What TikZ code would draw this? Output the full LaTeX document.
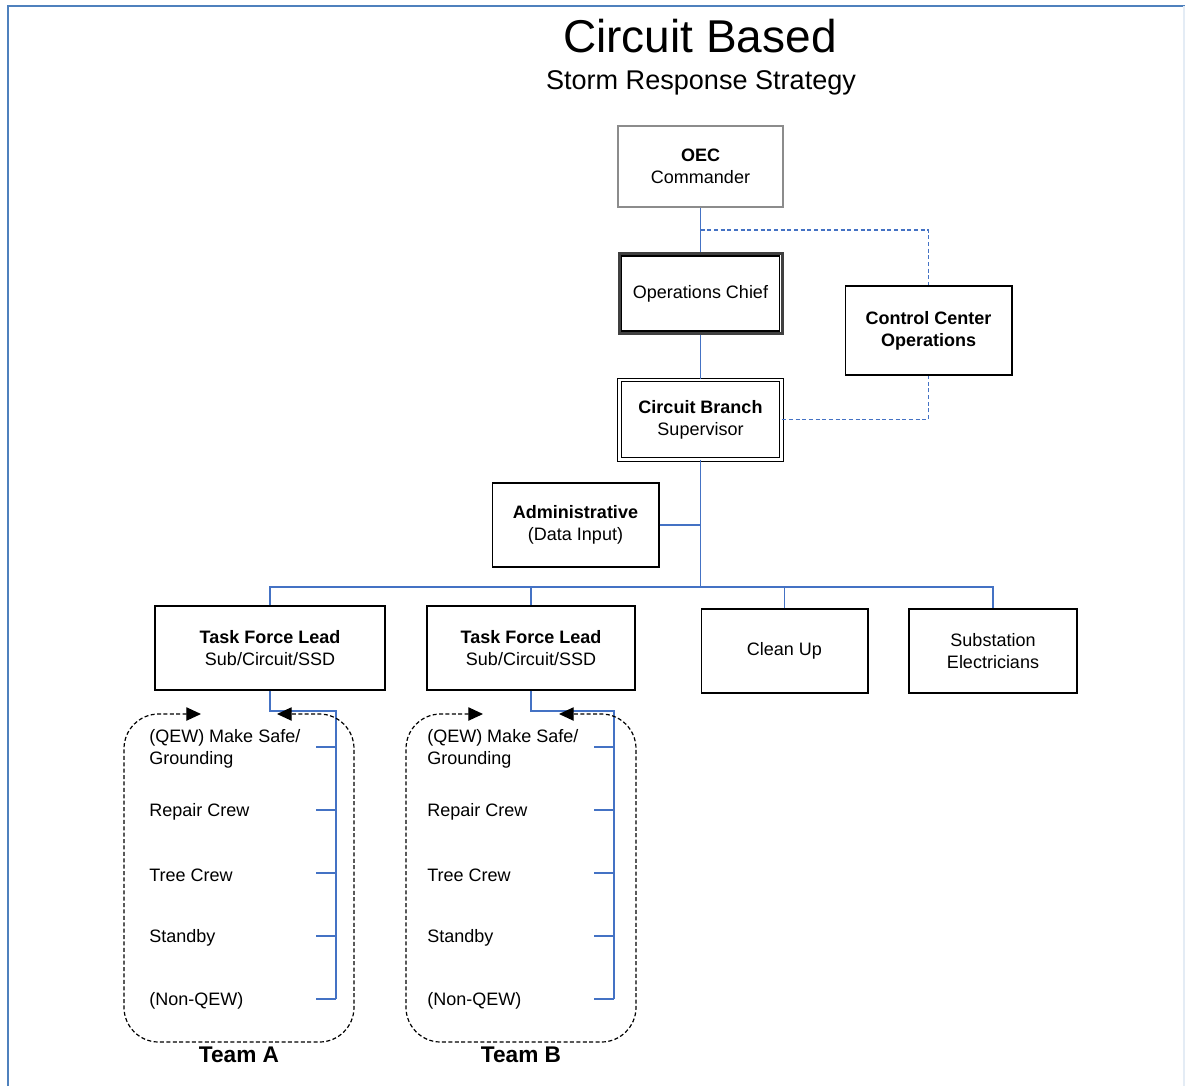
\documentclass[tikz,border=0pt]{standalone}
\usepackage{fontspec}
\setmainfont{Liberation Sans}
\usetikzlibrary{arrows.meta}
\definecolor{lineblue}{RGB}{68,114,196}
\definecolor{frameblue}{RGB}{79,129,189}
\definecolor{oecgray}{RGB}{140,140,140}
\begin{document}
\begin{tikzpicture}[x=0.75pt,y=-0.75pt,
  every node/.style={font=\fontsize{13.5pt}{16.5pt}\selectfont, inner sep=0pt, align=center},
  box/.style={draw=black, line width=1pt, minimum height=63pt, fill=white},
  conn/.style={draw=lineblue, line width=1pt},
  dconn/.style={conn, dash pattern=on 3pt off 2pt},
  crewtxt/.style={anchor=west, align=left},
  teambox/.style={draw=black, line width=0.9pt, dash pattern=on 3pt off 1.8pt,
    rounded corners=26pt, {Triangle[length=11pt,width=10pt]}-{Triangle[length=11pt,width=10pt]}},
  teamlabel/.style={font=\bfseries\fontsize{17pt}{20pt}\selectfont}
]
\useasboundingbox (0,0) rectangle (1185,1086);
% frame
\draw[frameblue, line width=1.5pt] (8,1086) -- (8,6) -- (1185,6);
\draw[frameblue!15, line width=0.8pt] (1184,6) -- (1184,1086);

% titles
\node[font=\fontsize{34.5pt}{40pt}\selectfont] (title) at (700,36) {Circuit Based};
\node[font=\fontsize{20.3pt}{24pt}\selectfont] (subtitle) at (701,83) {Storm Response Strategy};

% boxes
\node[draw=oecgray, line width=1.2pt, minimum width=123.75pt, minimum height=60.75pt] (oec) at (700.5,166.5) {\textbf{OEC}\\Commander};
\node[draw=black!75, line width=2.25pt, fill=white, minimum width=122.25pt, minimum height=60pt] (ops) at (700.5,293.5) {Operations Chief};
\draw[black, line width=1pt] ([xshift=3pt,yshift=-3pt]ops.north west) rectangle ([xshift=-3pt,yshift=3pt]ops.south east);
\node[box, minimum width=125pt, minimum height=66.75pt] (cc) at (928.5,330.5) {\textbf{Control Center}\\\textbf{Operations}};
\node[draw=black, line width=0.75pt, double=white, double distance=2pt, fill=white, minimum width=121.8pt, minimum height=59.5pt] (cb) at (700.5,419.5) {\textbf{Circuit Branch}\\Supervisor};
\node[box, minimum width=125pt] (admin) at (575.5,525) {\textbf{Administrative}\\(Data Input)};
\node[box, minimum width=172.5pt] (tflA) at (270,648) {\textbf{Task Force Lead}\\Sub/Circuit/SSD};
\node[box, minimum width=156pt] (tflB) at (531,648) {\textbf{Task Force Lead}\\Sub/Circuit/SSD};
\node[box, minimum width=125pt] (clean) at (784.5,651) {Clean Up};
\node[box, minimum width=126pt] (subst) at (993,651) {Substation\\Electricians};

% connectors
\coordinate (dj) at (700.5,230);
\coordinate (bus) at (700.5,587);
\draw[conn] (oec.south) -- (ops.north);
\draw[dconn] (dj) -| (cc.north);
\draw[conn] (ops.south) -- (cb.north);
\draw[dconn] (cb.east) -| (cc.south);
\draw[conn] (cb.south) -- (bus);
\draw[conn] (admin.east) -- (admin.east -| bus);
\draw[conn] (tflA.north) |- (subst.north |- bus) -- (subst.north);
\draw[conn] (tflB.north) -- (tflB.north |- bus);
\draw[conn] (clean.north) -- (clean.north |- bus);

% Team A
\node[crewtxt] (a1) at (149,749) {(QEW) Make Safe/\\Grounding};
\node[crewtxt] (a2) at (149,812) {Repair Crew};
\node[crewtxt] (a3) at (149,875) {Tree Crew};
\node[crewtxt] (a4) at (149,938) {Standby};
\node[crewtxt] (a5) at (149,1001) {(Non-QEW)};
\coordinate (ajA) at (336,711);
\coordinate (aendA) at (336,999);
\draw[conn] (tflA.south) |- (ajA) -- (aendA);
\foreach \y in {747,810,873,936,999}
  \draw[conn] (316,\y) -- (336,\y);
\draw[teambox] (201,714) -- (124,714) -- (124,1042) -- (354,1042) -- (354,714) -- (277,714);
\node[teamlabel] (teamA) at (239,1055) {Team A};

% Team B
\node[crewtxt] (b1) at (427,749) {(QEW) Make Safe/\\Grounding};
\node[crewtxt] (b2) at (427,812) {Repair Crew};
\node[crewtxt] (b3) at (427,875) {Tree Crew};
\node[crewtxt] (b4) at (427,938) {Standby};
\node[crewtxt] (b5) at (427,1001) {(Non-QEW)};
\coordinate (ajB) at (614,711);
\coordinate (aendB) at (614,999);
\draw[conn] (tflB.south) |- (ajB) -- (aendB);
\foreach \y in {747,810,873,936,999}
  \draw[conn] (594,\y) -- (614,\y);
\draw[teambox] (483,714) -- (406,714) -- (406,1042) -- (636,1042) -- (636,714) -- (559,714);
\node[teamlabel] (teamB) at (521,1055) {Team B};
\end{tikzpicture}
\end{document}
